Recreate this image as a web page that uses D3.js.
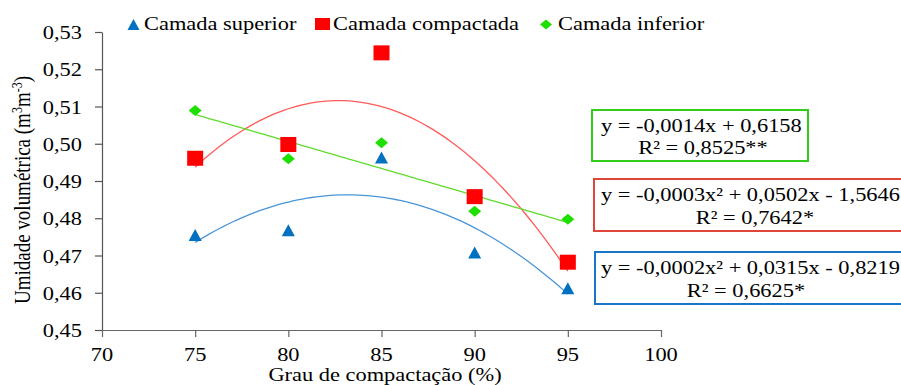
<!DOCTYPE html>
<html>
<head>
<meta charset="utf-8">
<script src="https://cdn.jsdelivr.net/npm/d3@7"></script>
<style>
  html, body { margin: 0; padding: 0; background: #fff; }
  svg { display: block; }
  text { font-family: "Liberation Serif", "Times New Roman", serif; fill: #000; }
</style>
</head>
<body>
<script>
// ---------------- DATA ----------------
const xValues = [75, 80, 85, 90, 95];
const superior = [0.4755, 0.4768, 0.4963, 0.4708, 0.4612];
const compactada = [0.4961, 0.4998, 0.5244, 0.4858, 0.4682];
const inferior = [0.5089, 0.4960, 0.5003, 0.4819, 0.4797];
const xTicks = [70, 75, 80, 85, 90, 95, 100];
const yTicks = [0.45, 0.46, 0.47, 0.48, 0.49, 0.50, 0.51, 0.52, 0.53];
const seriesNames = ["Camada superior", "Camada compactada", "Camada inferior"];
const eqInferior = ["y = -0,0014x  + 0,6158", "R\u00B2 = 0,8525**"];
const eqCompactada = ["y = -0,0003x\u00B2 + 0,0502x  - 1,5646", "R\u00B2 = 0,7642*"];
const eqSuperior = ["y = -0,0002x\u00B2 + 0,0315x  - 0,8219", "R\u00B2 = 0,6625*"];
const xTitle = "Grau de compactação (%)";

// ---------------- SETUP ----------------
const W = 901, H = 385;
const SX = 1.18, FS = 19;
const svg = d3.select("body").append("svg").attr("width", W).attr("height", H);

const x = d3.scaleLinear().domain([70, 100]).range([102, 661]);
const y = d3.scaleLinear().domain([0.45, 0.53]).range([330, 32]);

function txt(g, px, py, s, anchor, size) {
  return g.append("text")
    .attr("transform", `translate(${px},${py}) scale(${SX},1)`)
    .attr("text-anchor", anchor || "start")
    .style("font-size", (size || FS) + "px")
    .text(s);
}

const fmt = d => d3.format(".2f")(d).replace(".", ",");

// Y axis
const yAxis = svg.append("g").attr("transform", `translate(${x(70)},0)`)
  .call(d3.axisLeft(y).tickValues(yTicks).tickSize(7).tickSizeOuter(0).tickFormat(""));
yAxis.selectAll("path, line").attr("stroke", "#555").attr("stroke-width", 1.2);
yTicks.forEach(v => txt(svg, 82, y(v) + 7, fmt(v), "end"));

// X axis
const xAxis = svg.append("g").attr("transform", `translate(0,${y(0.45)})`)
  .call(d3.axisBottom(x).tickValues(xTicks).tickSize(7).tickSizeOuter(0).tickFormat(""));
xAxis.selectAll("path, line").attr("stroke", "#666").attr("stroke-width", 1.2);
xTicks.forEach(v => txt(svg, x(v), 361, String(v), "middle"));

// Axis titles
txt(svg, 385, 381, xTitle, "middle");
const yt = svg.append("text")
  .attr("transform", `translate(30,190) scale(${SX},1) rotate(-90)`)
  .attr("text-anchor", "middle")
  .style("font-size", FS + "px");
yt.append("tspan").text("Umidade volumétrica (m");
yt.append("tspan").attr("baseline-shift", "super").style("font-size", "12px").text("3");
yt.append("tspan").text("m");
yt.append("tspan").attr("baseline-shift", "super").style("font-size", "12px").text("-3");
yt.append("tspan").text(")");

// ---------------- TRENDLINES (least squares fits of the data) ----------------
function polyfit(xs, ys, deg) {
  const n = deg + 1, xc = 85;
  const A = Array.from({length: n}, () => new Array(n).fill(0));
  const b = new Array(n).fill(0);
  xs.forEach((xv, i) => {
    const t = xv - xc;
    for (let r = 0; r < n; r++) {
      b[r] += ys[i] * Math.pow(t, r);
      for (let c = 0; c < n; c++) A[r][c] += Math.pow(t, r + c);
    }
  });
  for (let i = 0; i < n; i++) {
    let p = i;
    for (let k = i + 1; k < n; k++) if (Math.abs(A[k][i]) > Math.abs(A[p][i])) p = k;
    [A[i], A[p]] = [A[p], A[i]]; [b[i], b[p]] = [b[p], b[i]];
    for (let k = i + 1; k < n; k++) {
      const f = A[k][i] / A[i][i];
      for (let c = i; c < n; c++) A[k][c] -= f * A[i][c];
      b[k] -= f * b[i];
    }
  }
  const coef = new Array(n).fill(0);
  for (let i = n - 1; i >= 0; i--) {
    let s = b[i];
    for (let c = i + 1; c < n; c++) s -= A[i][c] * coef[c];
    coef[i] = s / A[i][i];
  }
  return xv => coef.reduce((acc, cf, k) => acc + cf * Math.pow(xv - xc, k), 0);
}

const line = d3.line().x(d => x(d[0])).y(d => y(d[1])).curve(d3.curveLinear);
const xs = d3.range(75, 95.001, 0.25);
[
  {vals: compactada, deg: 2, color: "#ff5b5b"},
  {vals: superior, deg: 2, color: "#4a95d8"},
  {vals: inferior, deg: 1, color: "#5fdc2c"}
].forEach(s => {
  const f = polyfit(xValues, s.vals, s.deg);
  svg.append("path").datum(xs.map(v => [v, f(v)]))
    .attr("d", line).attr("fill", "none").attr("stroke", s.color).attr("stroke-width", 1.3);
});

// ---------------- MARKERS ----------------
const triPath = (cx, cy, w, h) => `M${cx},${cy - h / 2}L${cx + w / 2},${cy + h / 2}L${cx - w / 2},${cy + h / 2}Z`;
const diaPath = (cx, cy, w, h) => `M${cx},${cy - h / 2}L${cx + w / 2},${cy}L${cx},${cy + h / 2}L${cx - w / 2},${cy}Z`;

svg.append("g").selectAll("path").data(xValues.map((v, i) => [v, inferior[i]])).join("path")
  .attr("d", d => diaPath(x(d[0]), y(d[1]), 13, 11)).attr("fill", "#1ee000");
svg.append("g").selectAll("rect").data(xValues.map((v, i) => [v, compactada[i]])).join("rect")
  .attr("x", d => x(d[0]) - 8).attr("y", d => y(d[1]) - 7.5)
  .attr("width", 16).attr("height", 15).attr("fill", "#ff0000");
svg.append("g").selectAll("path").data(xValues.map((v, i) => [v, superior[i]])).join("path")
  .attr("d", d => triPath(x(d[0]), y(d[1]), 13, 12)).attr("fill", "#0070c0");

// ---------------- LEGEND ----------------
svg.append("path").attr("d", triPath(133.5, 24.5, 12, 11)).attr("fill", "#0070c0");
txt(svg, 144, 30, seriesNames[0]);
svg.append("rect").attr("x", 315).attr("y", 18).attr("width", 15).attr("height", 12).attr("fill", "#ff0000");
txt(svg, 333, 30, seriesNames[1]);
svg.append("path").attr("d", diaPath(546, 24.5, 12, 10)).attr("fill", "#1ee000");
txt(svg, 558, 30, seriesNames[2]);

// ---------------- EQUATION BOXES ----------------
function eqBox(x0, y0, x1, y1, color, lines, l1x, l1y, l2x, l2y) {
  svg.append("rect").attr("x", x0).attr("y", y0).attr("width", x1 - x0).attr("height", y1 - y0)
    .attr("fill", "#fff").attr("stroke", color).attr("stroke-width", 2);
  txt(svg, l1x, l1y, lines[0]);
  txt(svg, l2x, l2y, lines[1], "middle");
}
eqBox(592, 110, 808, 161, "#33cc1a", eqInferior, 601, 132, 703, 154);
eqBox(594, 179, 906, 231, "#e0453a", eqCompactada, 601, 201, 755, 224);
eqBox(595, 252, 906, 304, "#1a74c8", eqSuperior, 601, 274, 746, 297);
</script>
</body>
</html>
